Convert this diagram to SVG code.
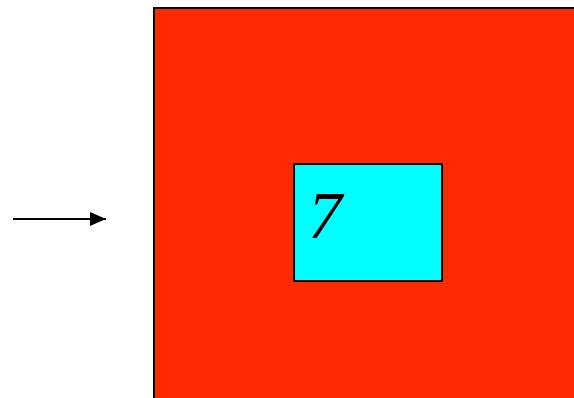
<svg xmlns="http://www.w3.org/2000/svg" width="574" height="398" viewBox="0 0 574 398">
<style>
.box{stroke:#000;stroke-width:2}
.lbl{font-family:"Liberation Serif",serif;font-style:italic;fill:#000}
</style>
<defs>
<marker id="ah" markerWidth="16" markerHeight="14" refX="16" refY="7" orient="auto" markerUnits="userSpaceOnUse">
<path d="M0,0 L16,7 L0,14 Z" fill="#000"/>
</marker>
</defs>
<rect width="574" height="398" fill="#fff"/>
<g id="outer">
<rect class="box" x="154" y="8" width="430" height="400" fill="#FF2A00"/>
</g>
<g id="inner">
<rect class="box" x="294" y="164" width="148" height="117" fill="#00FFFF"/>
<text class="lbl" x="308" y="238" font-size="68">7</text>
</g>
<g id="connectors">
<line x1="13" y1="219" x2="106" y2="219" stroke="#000" stroke-width="2" marker-end="url(#ah)"/>
</g>
</svg>
